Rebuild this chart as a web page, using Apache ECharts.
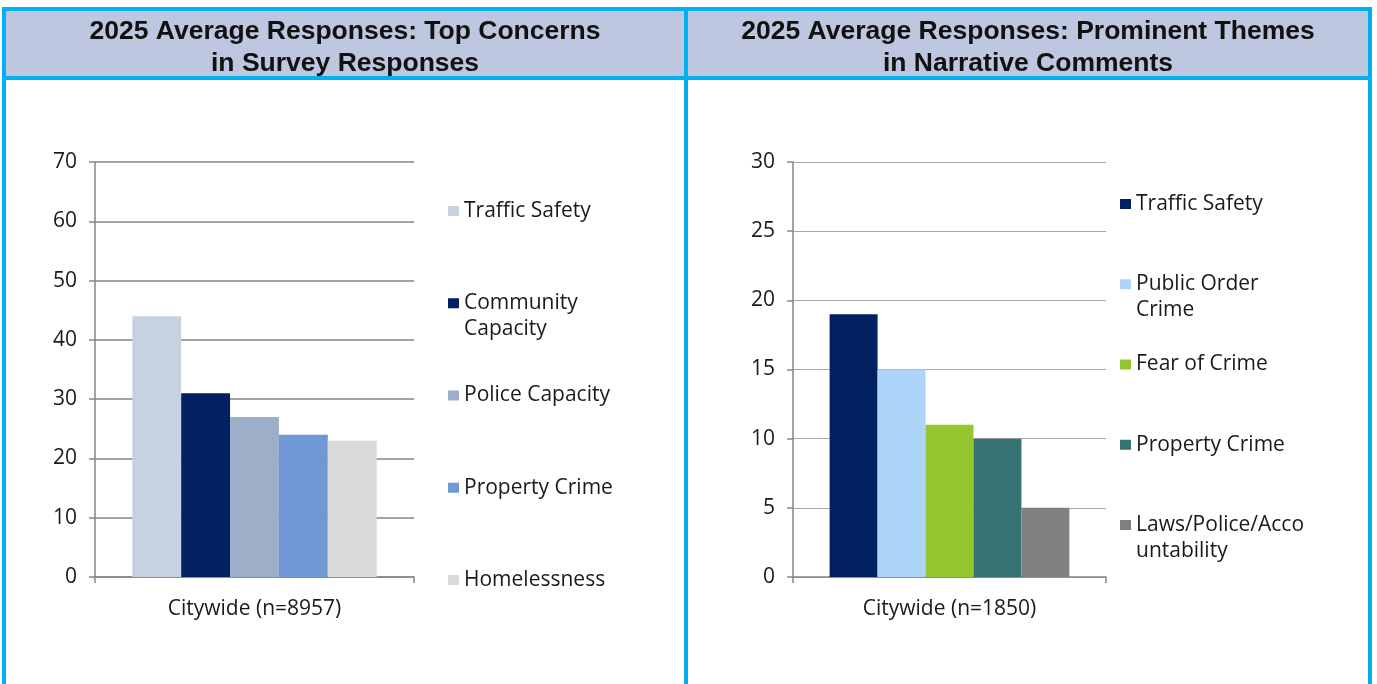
<!DOCTYPE html>
<html><head><meta charset="utf-8">
<script src="https://cdn.jsdelivr.net/npm/echarts@6/dist/echarts.min.js"></script>
<style>
html,body{margin:0;padding:0;width:1377px;height:684px;overflow:hidden;background:#fff}
.abs{position:absolute}
#hdr{left:6px;top:11px;width:1362px;height:65px;background:#BDC7E0}
#frame{left:2px;top:7px;width:1362px;height:700px;border:4px solid #00B0F0;border-bottom:none}
#hline{left:2px;top:76px;width:1370px;height:4px;background:#00B0F0}
#vline{left:684px;top:7px;width:4px;height:677px;background:#00B0F0}
#c1{left:6px;top:0;width:678px;height:684px}
#c2{left:688px;top:0;width:680px;height:684px}
</style></head>
<body>
<div id="hdr" class="abs"></div>
<div id="frame" class="abs"></div>
<div id="hline" class="abs"></div>
<div id="vline" class="abs"></div>
<div id="c1" class="abs"></div>
<div id="c2" class="abs"></div>
<script>
// ---- data ----
const leftTitleLines = ['2025 Average Responses: Top Concerns', 'in Survey Responses'];
const leftCategory = ['Citywide (n=8957)'];
const leftNames = ['Traffic Safety', 'Community Capacity', 'Police Capacity', 'Property Crime', 'Homelessness'];
const leftLegendLabels = ['Traffic Safety', 'Community\nCapacity', 'Police Capacity', 'Property Crime', 'Homelessness'];
const leftValues = [44, 31, 27, 24, 23];
const leftColors = ['#C6D2E0', '#002060', '#9DAEC8', '#7098D4', '#D9D9D9'];
const leftTicks = { min: 0, max: 70, interval: 10 };

const rightTitleLines = ['2025 Average Responses: Prominent Themes', 'in Narrative Comments'];
const rightCategory = ['Citywide (n=1850)'];
const rightNames = ['Traffic Safety', 'Public Order Crime', 'Fear of Crime', 'Property Crime', 'Laws/Police/Accountability'];
const rightLegendLabels = ['Traffic Safety', 'Public Order\nCrime', 'Fear of Crime', 'Property Crime', 'Laws/Police/Acco\nuntability'];
const rightValues = [19, 15, 11, 10, 5];
const rightColors = ['#00205F', '#ADD5FA', '#94C72F', '#377373', '#808080'];
const rightTicks = { min: 0, max: 30, interval: 5 };

const FONT = 'Open Sans';
const FS = 21;
const TXT = '#1a1a1a';

function buildOption(cfg) {
  const series = cfg.names.map((n, i) => ({
    name: n, type: 'bar', data: [cfg.values[i]],
    itemStyle: { color: cfg.colors[i] },
    barGap: '0%', barCategoryGap: '23.4%', silent: true
  }));
  const legends = cfg.names.map((n, i) => {
    const lines = cfg.labels[i].split('\n').length;
    const c = cfg.legendTop + i * cfg.legendStep;
    return {
      data: [n], left: cfg.legendLeft, top: lines > 1 ? c - 39 : c - 13,
      padding: 0, itemWidth: 11, itemHeight: 10, icon: 'rect',
      selectedMode: false,
      formatter: () => (lines > 1 ? '\n' : '') + cfg.labels[i],
      textStyle: { fontFamily: FONT, fontSize: FS, color: TXT, lineHeight: 26 }
    };
  });
  const titles = cfg.titleLines.map((t, i) => ({
    text: t, left: 'center', top: 16 + i * 32, padding: 0,
    textStyle: { fontFamily: 'Liberation Sans', fontWeight: 'bold', fontSize: 26.5, lineHeight: 32, color: '#111' }
  }));
  return {
    animation: false,
    title: titles,
    legend: legends,
    grid: { left: cfg.gridLeft, width: cfg.gridWidth, top: 162, height: 415, containLabel: false },
    xAxis: { type: 'category', data: cfg.category,
      axisLine: { lineStyle: { color: '#868686', width: 1.5 } },
      axisTick: { show: true, length: 6, lineStyle: { color: '#868686', width: 1.5 } },
      axisLabel: { margin: 22, fontFamily: FONT, fontSize: FS, color: TXT } },
    yAxis: { type: 'value', min: cfg.ticks.min, max: cfg.ticks.max, interval: cfg.ticks.interval,
      axisLine: { show: true, lineStyle: { color: '#868686', width: 1.5 } },
      axisTick: { show: true, length: 6, lineStyle: { color: '#868686', width: 1.5 } },
      splitLine: { lineStyle: { color: cfg.gridColor, width: cfg.gridWidthLine } },
      axisLabel: { margin: 18, fontFamily: FONT, fontSize: FS, color: TXT } },
    series
  };
}

const c1 = echarts.init(document.getElementById('c1'));
c1.setOption(buildOption({
  titleLines: leftTitleLines, category: leftCategory, names: leftNames, labels: leftLegendLabels,
  values: leftValues, colors: leftColors, ticks: leftTicks,
  gridLeft: 89, gridWidth: 319, legendLeft: 442, legendTop: 211, legendStep: 92.25,
  gridColor: '#868686', gridWidthLine: 1.5
}));
const c2 = echarts.init(document.getElementById('c2'));
c2.setOption(buildOption({
  titleLines: rightTitleLines, category: rightCategory, names: rightNames, labels: rightLegendLabels,
  values: rightValues, colors: rightColors, ticks: rightTicks,
  gridLeft: 105, gridWidth: 313, legendLeft: 432, legendTop: 204, legendStep: 80.25,
  gridColor: '#A6A6A6', gridWidthLine: 1
}));
</script>
</body></html>
